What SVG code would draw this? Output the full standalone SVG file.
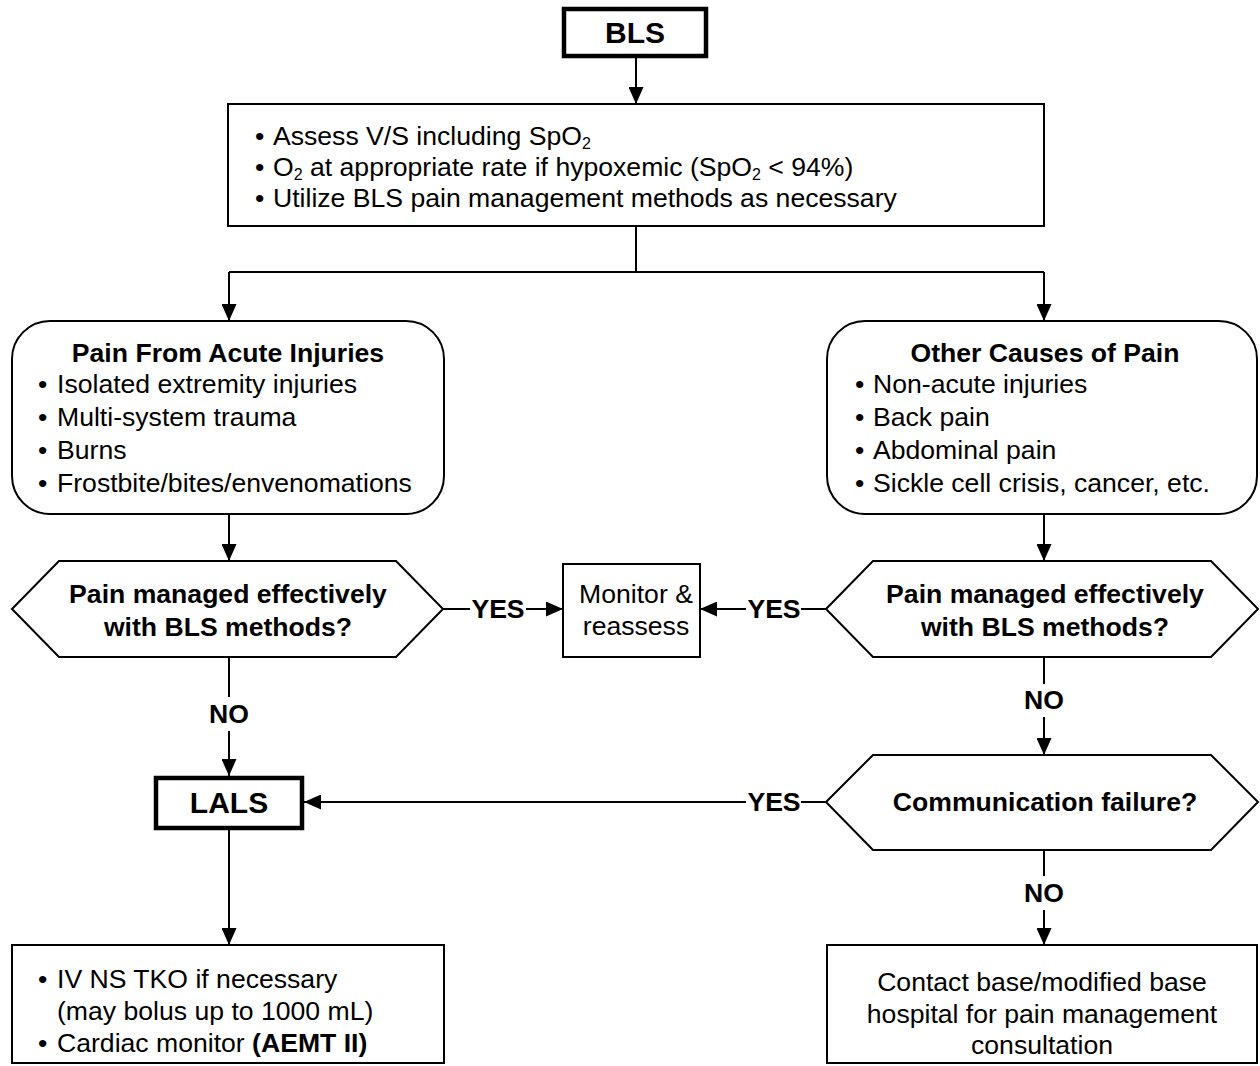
<svg xmlns="http://www.w3.org/2000/svg" width="1260" height="1066" viewBox="0 0 1260 1066">
<defs>
<marker id="ah" markerWidth="17" markerHeight="15" refX="17" refY="7.5" orient="auto" markerUnits="userSpaceOnUse">
<path d="M0,0 L17,7.5 L0,15 Z" fill="#000"/>
</marker>
<style>
text{font-family:"Liberation Sans",Arial,sans-serif;font-size:26.6px;fill:#000}
.b{font-weight:bold}
.c{text-anchor:middle}
.big{font-size:30px;font-weight:bold;text-anchor:middle}
.box{fill:#fff;stroke:#000;stroke-width:2}
.thick{fill:#fff;stroke:#000;stroke-width:4.5}
.ln{fill:none;stroke:#000;stroke-width:2}
.ar{fill:none;stroke:#000;stroke-width:2;marker-end:url(#ah)}
.sub{font-size:16px}
</style>
</defs>
<rect width="1260" height="1066" fill="#fff"/>

<g id="connectors">
<line class="ar" x1="636" y1="58" x2="636" y2="104"/>
<polyline class="ln" points="636,226 636,272"/>
<line class="ln" x1="229" y1="272" x2="1044" y2="272"/>
<line class="ar" x1="229" y1="272" x2="229" y2="321"/>
<line class="ar" x1="1044" y1="272" x2="1044" y2="321"/>
<line class="ar" x1="229" y1="514" x2="229" y2="561"/>
<line class="ar" x1="1044" y1="514" x2="1044" y2="561"/>
<line class="ln" x1="443" y1="609" x2="470" y2="609"/>
<line class="ar" x1="526" y1="609" x2="563" y2="609"/>
<line class="ln" x1="826" y1="609" x2="801" y2="609"/>
<line class="ar" x1="746" y1="609" x2="700" y2="609"/>
<line class="ln" x1="229" y1="657" x2="229" y2="697"/>
<line class="ar" x1="229" y1="731" x2="229" y2="776"/>
<line class="ln" x1="1044" y1="657" x2="1044" y2="684"/>
<line class="ar" x1="1044" y1="717" x2="1044" y2="755"/>
<line class="ln" x1="826" y1="802" x2="801" y2="802"/>
<line class="ar" x1="746" y1="802" x2="304" y2="802"/>
<line class="ln" x1="1044" y1="850" x2="1044" y2="876"/>
<line class="ar" x1="1044" y1="910" x2="1044" y2="945"/>
<line class="ar" x1="229" y1="830" x2="229" y2="945"/>
<text class="b c" x="498" y="618">YES</text>
<text class="b c" x="774" y="618">YES</text>
<text class="b c" x="229" y="723">NO</text>
<text class="b c" x="1044" y="709">NO</text>
<text class="b c" x="774" y="811">YES</text>
<text class="b c" x="1044" y="902">NO</text>
</g>

<g id="bls">
<rect class="thick" x="564" y="9" width="142" height="47"/>
<text class="big" x="635" y="43">BLS</text>
</g>

<g id="assess">
<rect class="box" x="228" y="104" width="816" height="122"/>
<text x="255" y="145">•<tspan x="273">Assess V/S including SpO</tspan><tspan class="sub" dy="4">2</tspan></text>
<text x="255" y="176">•<tspan x="273">O</tspan><tspan class="sub" dy="4">2</tspan><tspan dy="-4"> at appropriate rate if hypoxemic (SpO</tspan><tspan class="sub" dy="4">2</tspan><tspan dy="-4"> &lt; 94%)</tspan></text>
<text x="255" y="207">•<tspan x="273">Utilize BLS pain management methods as necessary</tspan></text>
</g>

<g id="acute">
<rect class="box" x="12" y="321" width="432" height="193" rx="38" ry="38"/>
<text class="b c" x="228" y="362">Pain From Acute Injuries</text>
<text x="38" y="393">•<tspan x="57">Isolated extremity injuries</tspan></text>
<text x="38" y="426">•<tspan x="57">Multi-system trauma</tspan></text>
<text x="38" y="459">•<tspan x="57">Burns</tspan></text>
<text x="38" y="492">•<tspan x="57">Frostbite/bites/envenomations</tspan></text>
</g>

<g id="other">
<rect class="box" x="827" y="321" width="430" height="193" rx="38" ry="38"/>
<text class="b c" x="1045" y="362">Other Causes of Pain</text>
<text x="855" y="393">•<tspan x="873">Non-acute injuries</tspan></text>
<text x="855" y="426">•<tspan x="873">Back pain</tspan></text>
<text x="855" y="459">•<tspan x="873">Abdominal pain</tspan></text>
<text x="855" y="492">•<tspan x="873">Sickle cell crisis, cancer, etc.</tspan></text>
</g>

<g id="decision-left">
<polygon class="box" points="12,609 59,561 396,561 443,609 396,657 59,657"/>
<text class="b c" x="228" y="603">Pain managed effectively</text>
<text class="b c" x="228" y="636">with BLS methods?</text>
</g>

<g id="monitor">
<rect class="box" x="563" y="564" width="137" height="93"/>
<text class="c" x="636" y="603">Monitor &amp;</text>
<text class="c" x="636" y="635">reassess</text>
</g>

<g id="decision-right">
<polygon class="box" points="826,609 873,561 1211,561 1258,609 1211,657 873,657"/>
<text class="b c" x="1045" y="603">Pain managed effectively</text>
<text class="b c" x="1045" y="636">with BLS methods?</text>
</g>

<g id="lals">
<rect class="thick" x="156" y="778" width="146" height="50"/>
<text class="big" x="229" y="813">LALS</text>
</g>

<g id="comm">
<polygon class="box" points="826,802 873,755 1211,755 1258,802 1211,850 873,850"/>
<text class="b c" x="1045" y="811">Communication failure?</text>
</g>

<g id="iv">
<rect class="box" x="12" y="945" width="432" height="118"/>
<text x="38" y="988">•<tspan x="57">IV NS TKO if necessary</tspan></text>
<text x="57" y="1020">(may bolus up to 1000 mL)</text>
<text x="38" y="1052">•<tspan x="57">Cardiac monitor </tspan><tspan class="b">(AEMT II)</tspan></text>
</g>

<g id="contact">
<rect class="box" x="827" y="945" width="430" height="118"/>
<text class="c" x="1042" y="991">Contact base/modified base</text>
<text class="c" x="1042" y="1023">hospital for pain management</text>
<text class="c" x="1042" y="1054">consultation</text>
</g>
</svg>
